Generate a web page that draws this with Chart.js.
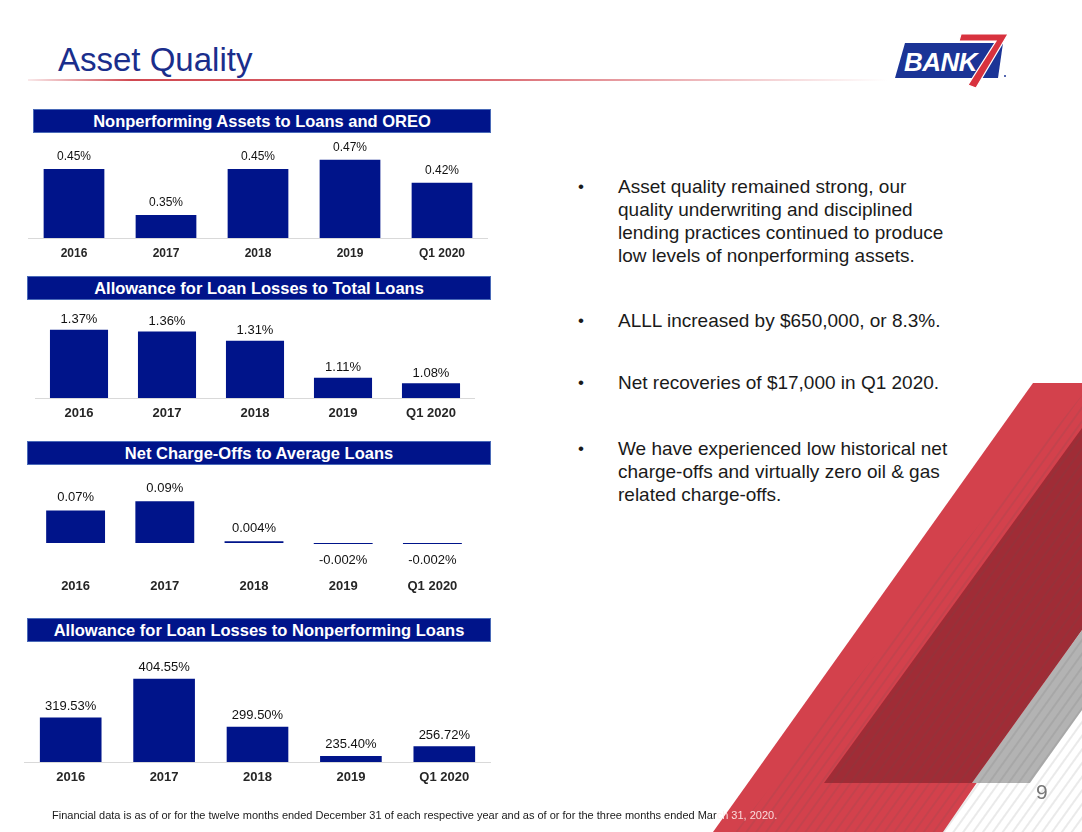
<!DOCTYPE html>
<html>
<head>
<meta charset="utf-8">
<script src="https://cdn.jsdelivr.net/npm/chart.js@4.4.1/dist/chart.umd.min.js"></script>
<style>
  body { margin: 0; width: 1082px; height: 832px; position: relative; overflow: hidden; background: #fff; font-family: Arial, "Liberation Sans", sans-serif; }
  .title { position: absolute; left: 58px; top: 42px; font-size: 33px; line-height: 36px; color: #1a2e8c; }
  .rule { position: absolute; left: 28px; top: 79px; width: 860px; height: 2px;
          background: linear-gradient(to right, rgba(200,40,50,0.1) 0%, rgba(200,40,50,0.85) 12%, rgba(205,50,60,0.7) 55%, rgba(210,80,90,0) 100%); }
  .hdr { position: absolute; height: 24px; background: #00148a; border: 1px solid #4a6ab8; box-sizing: border-box;
         color: #fff; font-weight: bold; font-size: 16.5px; line-height: 22px; text-align: center; white-space: nowrap; }
  .chart { position: absolute; }
  .bul { position: absolute; left: 578px; width: 420px; font-size: 19px; line-height: 23px; color: #1a1a1a; white-space: nowrap; }
  .bul .dot { position: absolute; left: 0; top: 0; font-size: 17px; }
  .bul .txt { margin-left: 40px; }
  .foot { position: absolute; left: 52px; top: 808px; font-size: 11px; line-height: 14px; color: #1a1a1a; white-space: nowrap; z-index: 3; }
  .pg { position: absolute; left: 1036px; top: 779px; font-size: 21px; line-height: 26px; color: #777; z-index: 3; }
  svg.deco { position: absolute; left: 0; top: 0; z-index: 2; }
</style>
</head>
<body>

<div class="title">Asset Quality</div>
<div class="rule"></div>

<svg class="logo" style="position:absolute;left:0;top:0" width="1082" height="100">
  <polygon points="905,43 1003,43 998,78 895,78" fill="#1b3496"/>
  <text x="904" y="71" font-family="Arial, 'Liberation Sans', sans-serif" font-weight="bold" font-style="italic" font-size="26" fill="#fff" letter-spacing="-0.5">BANK</text>
  <polygon points="961,34 1008,34 976,88 968,85 996,41 959,41" fill="#d8323e" stroke="#fff" stroke-width="1.2"/>
  <circle cx="1005" cy="76" r="1" fill="#1b3496"/>
</svg>

<div class="hdr" style="left:33px;top:109px;width:458px">Nonperforming Assets to Loans and OREO</div>
<div class="hdr" style="left:27px;top:276px;width:464px">Allowance for Loan Losses to Total Loans</div>
<div class="hdr" style="left:27px;top:441px;width:464px">Net Charge-Offs to Average Loans</div>
<div class="hdr" style="left:27px;top:618px;width:464px">Allowance for Loan Losses to Nonperforming Loans</div>

<div class="chart" style="left:28px;top:126px;width:460px;height:142px"><canvas id="c1"></canvas></div>
<div class="chart" style="left:35px;top:295px;width:440px;height:133px"><canvas id="c2"></canvas></div>
<div class="chart" style="left:31px;top:472px;width:446px;height:129px"><canvas id="c3"></canvas></div>
<div class="chart" style="left:24px;top:634px;width:467px;height:158px"><canvas id="c4"></canvas></div>

<div class="bul" style="top:175px"><span class="dot">•</span><div class="txt">Asset quality remained strong, our<br>quality underwriting and disciplined<br>lending practices continued to produce<br>low levels of nonperforming assets.</div></div>
<div class="bul" style="top:309px"><span class="dot">•</span><div class="txt">ALLL increased by $650,000, or 8.3%.</div></div>
<div class="bul" style="top:371px"><span class="dot">•</span><div class="txt">Net recoveries of $17,000 in Q1 2020.</div></div>
<div class="bul" style="top:437px"><span class="dot">•</span><div class="txt">We have experienced low historical net<br>charge-offs and virtually zero oil &amp; gas<br>related charge-offs.</div></div>

<svg class="deco" width="1082" height="832">
  <defs>
    <pattern id="hatch" width="8" height="40" patternUnits="userSpaceOnUse" patternTransform="rotate(35.8)">
      <rect x="3.6" y="0" width="0.8" height="40" fill="rgba(80,80,80,0.3)"/>
    </pattern>
  </defs>
  <polygon points="1033,383 1082,383 1082,630 943,832 713,832" fill="#d3414c"/>
  <polygon points="1082,428 824,783 972,783 1082,630" fill="#a02c36"/>
  <polygon points="972,783 1030,783 1082,710 1082,630" fill="#b3b3b3"/>
  <polygon points="1082,395 1082,832 735,832" fill="url(#hatch)"/>
</svg>

<div class="foot">Financial data is as of or for the twelve months ended December 31 of each respective year and as of or for the three months ended Mar<span style="color:rgba(255,235,235,0.9)">ch 31, 2020.</span></div>
<div class="pg">9</div>

<script>
const years = ['2016', '2017', '2018', '2019', 'Q1 2020'];
const npaToLoansOreo = [0.45, 0.35, 0.45, 0.47, 0.42];
const alllToTotalLoans = [1.37, 1.36, 1.31, 1.11, 1.08];
const ncoToAvgLoans = [0.07, 0.09, 0.004, -0.002, -0.002];
const alllToNpl = [319.53, 404.55, 299.50, 235.40, 256.72];

const BAR = '#00148a';

// value labels above (or below, for negatives) each bar
const valueLabels = {
  id: 'valueLabels',
  afterDatasetsDraw(chart, args, opts) {
    const ctx = chart.ctx;
    const ds = chart.data.datasets[0];
    chart.getDatasetMeta(0).data.forEach((bar, i) => {
      const v = ds.data[i];
      ctx.save();
      ctx.font = `${opts.size}px Arial, "Liberation Sans", sans-serif`;
      ctx.fillStyle = '#111';
      ctx.textAlign = 'center';
      ctx.textBaseline = 'middle';
      const y = v >= 0 ? Math.min(bar.y, bar.base) - opts.off : Math.max(bar.y, bar.base) + opts.negOff;
      ctx.fillText(opts.fmt(v), bar.x, y);
      ctx.restore();
    });
  }
};

function makeChart(id, values, min, max, labelSize, tickSize, off, fmt, zeroLine) {
  return new Chart(document.getElementById(id), {
    type: 'bar',
    data: { labels: years, datasets: [{ data: values, backgroundColor: BAR, barPercentage: 0.66, categoryPercentage: 1 }] },
    options: {
      responsive: true, maintainAspectRatio: false, animation: false,
      layout: { padding: { top: 20, left: 0, right: 0, bottom: 0 } },
      plugins: {
        legend: { display: false }, tooltip: { enabled: false },
        valueLabels: { size: labelSize, off: off, negOff: 16, fmt: fmt }
      },
      scales: {
        x: {
          grid: { display: false, drawTicks: false },
          border: { display: !zeroLine, color: '#d9d9d9' },
          ticks: { color: '#262626', padding: 8, font: { size: tickSize, weight: 'bold', family: 'Arial, "Liberation Sans", sans-serif' } },
          afterFit(s) { s.height = 30; }
        },
        y: {
          display: zeroLine ? true : false,
          min: min, max: max,
          ticks: { display: false, stepSize: 0.01 },
          border: { display: false },
          grid: { drawTicks: false, color: c => c.tick && c.tick.value === 0 ? '#d9d9d9' : 'rgba(0,0,0,0)' }
        }
      }
    },
    plugins: [valueLabels]
  });
}

const pct = v => v + '%';
makeChart('c1', npaToLoansOreo, 0.30, 0.50, 12, 12, 12, pct, false);
makeChart('c2', alllToTotalLoans, 1.00, 1.45, 13, 13, 10, pct, false);
makeChart('c3', ncoToAvgLoans, -0.06, 0.11, 13, 13, 13, pct, true);
makeChart('c4', alllToNpl, 222, 459, 13, 13, 11, v => v.toFixed(2) + '%', false);
</script>
</body>
</html>
